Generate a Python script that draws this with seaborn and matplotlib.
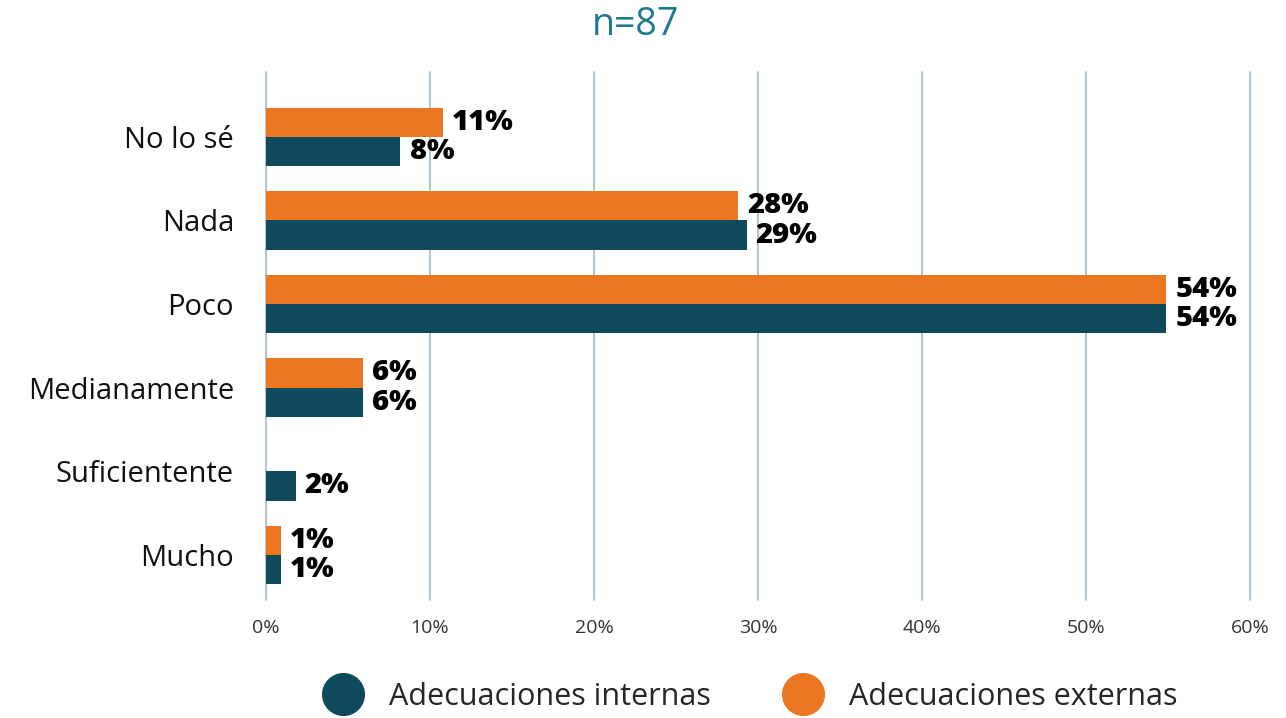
import matplotlib.pyplot as plt
import pandas as pd
import seaborn as sns
from matplotlib.lines import Line2D

# data
CATEGORIES = ["No lo sé", "Nada", "Poco", "Medianamente", "Suficientente", "Mucho"]
EXTERNAS = [10.8, 28.8, 54.9, 5.9, 0.0, 0.9]
INTERNAS = [8.2, 29.3, 54.9, 5.9, 1.8, 0.9]
EXTERNAS_LABELS = ["11%", "28%", "54%", "6%", "", "1%"]
INTERNAS_LABELS = ["8%", "29%", "54%", "6%", "2%", "1%"]
X_TICKS = [0, 10, 20, 30, 40, 50, 60]

# style
ORANGE = "#EC7723"
TEAL = "#0F4A5C"
TITLE_COLOR = "#1B7A8C"
GRID_COLOR = "#A9BECB"
FONT = "Open Sans"

sns.set_theme(style="white")
plt.rcParams["font.family"] = [FONT, "DejaVu Sans"]

df = pd.DataFrame(
    {
        "cat": CATEGORIES * 2,
        "value": EXTERNAS + INTERNAS,
        "serie": ["Adecuaciones externas"] * len(CATEGORIES)
        + ["Adecuaciones internas"] * len(CATEGORIES),
    }
)

fig = plt.figure(figsize=(12.86, 7.18), dpi=100)
ax = fig.add_axes([266 / 1286, 118 / 718, 984 / 1286, 528 / 718])

sns.barplot(
    data=df,
    y="cat",
    x="value",
    hue="serie",
    hue_order=["Adecuaciones externas", "Adecuaciones internas"],
    palette=[ORANGE, TEAL],
    order=CATEGORIES,
    orient="h",
    width=0.7,
    saturation=1,
    errorbar=None,
    legend=False,
    linewidth=0,
    ax=ax,
)

for container, labels in zip(ax.containers, [EXTERNAS_LABELS, INTERNAS_LABELS]):
    ax.bar_label(
        container,
        labels=labels,
        padding=6.5,
        fontsize=21,
        fontweight="heavy",
        color="black",
    )

ax.set_xlim(0, 60)
ax.set_ylim(5.54, -0.775)
ax.set_xticks(X_TICKS)
ax.set_xticklabels([f"{t}%" for t in X_TICKS], fontsize=14, color="#333333")
ax.tick_params(axis="y", labelsize=21, colors="#111111", length=0, pad=23)
ax.tick_params(axis="x", length=0, pad=14)
ax.set_xlabel("")
ax.set_ylabel("")
sns.despine(ax=ax, left=True, bottom=True)
ax.grid(axis="x", color=GRID_COLOR, lw=1.3)
ax.grid(axis="y", visible=False)
ax.set_axisbelow(True)
for gl in ax.get_xgridlines():
    gl.set_clip_on(False)

fig.text(635 / 1286, 0.965, "n=87", ha="center", va="center", fontsize=27, color=TITLE_COLOR)

handles = [
    Line2D([], [], marker="o", ls="", markersize=30, color=TEAL, label="Adecuaciones internas"),
    Line2D([], [], marker="o", ls="", markersize=30, color=ORANGE, label="Adecuaciones externas"),
]
fig.legend(
    handles=handles,
    loc="center",
    bbox_to_anchor=(745 / 1286, 1 - 697 / 718),
    ncol=2,
    frameon=False,
    fontsize=22,
    handletextpad=0.5,
    columnspacing=2.0,
)

fig.savefig("out.png", dpi=100)
